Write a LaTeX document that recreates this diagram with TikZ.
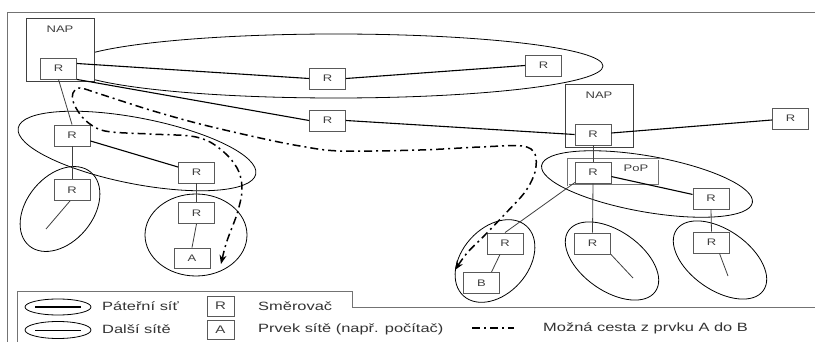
\documentclass[tikz,border=0pt]{standalone}
\usepackage{fontspec}
\setmainfont{Liberation Sans}
\usepackage{graphicx}
\usetikzlibrary{arrows.meta}
\newcommand{\hs}[1]{\scalebox{1.37}[1]{#1}}
\begin{document}
\begin{tikzpicture}[x=1pt,y=-1pt,
  rbox/.style={draw=black!65, line width=0.9pt, fill=white, minimum width=36pt, minimum height=21pt, inner sep=0pt, font=\fontsize{9.5}{10}\selectfont, text=black!75},
  napbox/.style={draw=black!75, line width=1pt, fill=white, minimum width=68pt, minimum height=63pt, inner sep=0pt},
  popbox/.style={draw=black!55, line width=0.6pt, double=white, double distance=0.8pt, minimum width=91pt, minimum height=26pt, inner sep=0pt},
  lbl/.style={font=\fontsize{9.5}{10}\selectfont, text=black!75, inner sep=0pt},
  link/.style={draw=black, line width=1.1pt},
  thinlink/.style={draw=black!75, line width=0.8pt},
  net/.style={draw=black, line width=0.8pt},
  routeline/.style={draw=black, line width=1.5pt, dash pattern=on 8pt off 4pt on 2pt off 4pt},
  route/.style={routeline, {Stealth[length=9pt,width=7pt]}-{Stealth[length=9pt,width=7pt]}},
  legtext/.style={font=\fontsize{12}{14}\selectfont, text=black!80, anchor=west, inner sep=0pt},
  frame/.style={draw=black!55, line width=0.9pt}
]
\useasboundingbox (0,0) rectangle (815,342);
\fill[white] (0,0) rectangle (815,342);

% frames
\draw[frame] (7.5,342) -- (7.5,12) -- (815,12);
\draw[frame] (17.5,342) -- (17.5,291) -- (352,291) -- (352,307.5) -- (815,307.5);

% networks (ellipses)
\draw[net] (336,66) ellipse [x radius=267pt, y radius=32pt];
\draw[net, rotate around={-11:(137,151)}] (137,151) ellipse [x radius=121pt, y radius=33pt];
\draw[net, rotate around={50:(60,209)}] (60,209) ellipse [x radius=48pt, y radius=33pt];
\draw[net] (196,235) ellipse [x radius=51pt, y radius=41pt];
\draw[net, rotate around={-10:(647,184)}] (647,184) ellipse [x radius=107pt, y radius=28pt];
\draw[net, rotate around={48:(495,261)}] (495,261) ellipse [x radius=47pt, y radius=33pt];
\draw[net, rotate around={-35:(612,261)}] (612,261) ellipse [x radius=53pt, y radius=30pt];
\draw[net, rotate around={-35:(720,260)}] (720,260) ellipse [x radius=53pt, y radius=30pt];

% NAP and PoP boxes
\node[napbox] (nap1) at (60,50.5) {};
\node[lbl] (nap1l) at (60,29) {\hs{NAP}};
\node[napbox] (nap2) at (599,116.5) {};
\node[lbl] (nap2l) at (599,95) {\hs{NAP}};
\node[popbox] (pop) at (613.5,172) {};
\node[lbl] (popl) at (636,168) {\hs{PoP}};

% routers and hosts
\node[rbox] (r1) at (58.5,68.5) {\hs{R}};
\node[rbox] (rt1) at (327.5,78.5) {\hs{R}};
\node[rbox] (rt2) at (543.5,65.5) {\hs{R}};
\node[rbox] (rm) at (327.5,120.5) {\hs{R}};
\node[rbox] (r2) at (593,134.5) {\hs{R}};
\node[rbox] (rr) at (790.5,118.5) {\hs{R}};
\node[rbox] (rp) at (593,172.5) {\hs{R}};
\node[rbox] (rpe) at (711,198.5) {\hs{R}};
\node[rbox] (rb1) at (711.5,242.5) {\hs{R}};
\node[rbox] (rb2) at (592.5,243.5) {\hs{R}};
\node[rbox] (rb3) at (505,243.5) {\hs{R}};
\node[rbox] (bB) at (481.5,283) {\hs{B}};
\node[rbox] (rl1) at (72,135.5) {\hs{R}};
\node[rbox] (rl2) at (196.5,172.5) {\hs{R}};
\node[rbox] (rl3) at (72,190) {\hs{R}};
\node[rbox] (rl4) at (196.5,213) {\hs{R}};
\node[rbox, minimum height=20pt] (aA) at (192,258) {\hs{A}};

% free ends of short stubs
\coordinate (s1) at (46,229);
\coordinate (s2) at (633,278);
\coordinate (s3) at (728,276);

% backbone links
\draw[link] ([yshift=5pt]r1.east) -- (rt1.west);
\draw[link] (rt1.east) -- (rt2.west);
\draw[link] (r1.south east) -- (rm.west);
\draw[link] (rm.east) -- (r2.west);
\draw[link] (r2) -- (rr);
\draw[link] (rl1) -- (rl2);
\draw[link] (rp) -- (rpe);

% other links
\draw[thinlink] (r1.south) -- (rl1.north);
\draw[thinlink] (rl1.south) -- (rl3.north);
\draw[thinlink] ([xshift=-2pt]rl3.south) -- (s1);
\draw[thinlink] (rl2.south) -- (rl4.north);
\draw[thinlink] (rl4.south) -- (aA.north);
\draw[thinlink] (r2.south) -- (rp.north);
\draw[thinlink] (rp.south) -- (rb2.north);
\draw[thinlink] (rb2.south east) -- (s2);
\draw[thinlink] (rpe.south) -- (rb1.north);
\draw[thinlink] ([xshift=8pt]rb1.south) -- (s3);
\draw[thinlink] ([xshift=-18pt,yshift=1pt]rp.south) -- (rb3.north);
\draw[thinlink] ([xshift=-5pt]rb3.south) -- ([xshift=10pt]bB.north);

% possible route from A to B
\coordinate (pA) at (221,264);
\coordinate (pB) at (455,270);
\draw[route] plot[smooth, tension=0.55] coordinates {(pA) (227,241) (237,214) (242,191) (239,172) (228,156) (210,142) (190,136) (150,134) (105,131) (85,120) (74,104) (73,93) (80,88) (100,94) (150,110) (200,124) (260,138) (300,146) (340,151) (420,150) (480,147) (522,146) (535,154) (535,172) (525,192) (505,214) (483,237) (467,253) (pB)};

% legend
\draw[net] (58,307) ellipse [x radius=33pt, y radius=8pt];
\draw[black, line width=1.5pt] (35,307) -- (81,307);
\draw[net] (58,330) ellipse [x radius=33pt, y radius=8.5pt];
\draw[black, line width=0.8pt] (35,330) -- (81,330);
\node[legtext] (t1) at (102,306) {\hs{Páteřní síť}};
\node[legtext] (t2) at (102,329) {\hs{Další sítě}};
\node[rbox, minimum width=27pt, minimum height=20pt, font=\fontsize{11}{12}\selectfont] (legR) at (220.5,306) {\hs{R}};
\node[rbox, minimum width=27pt, minimum height=19pt, font=\fontsize{11}{12}\selectfont] (legA) at (220.5,329.5) {\hs{A}};
\node[legtext] (t3) at (258,306) {\hs{Směrovač}};
\node[legtext] (t4) at (258,329) {\hs{Prvek sítě (např. počítač)}};
\coordinate (d1) at (472,328);
\coordinate (d2) at (514,328);
\draw[routeline] (d1) -- (d2);
\node[legtext] (t5) at (543,328) {\hs{Možná cesta z prvku A do B}};
\end{tikzpicture}
\end{document}
